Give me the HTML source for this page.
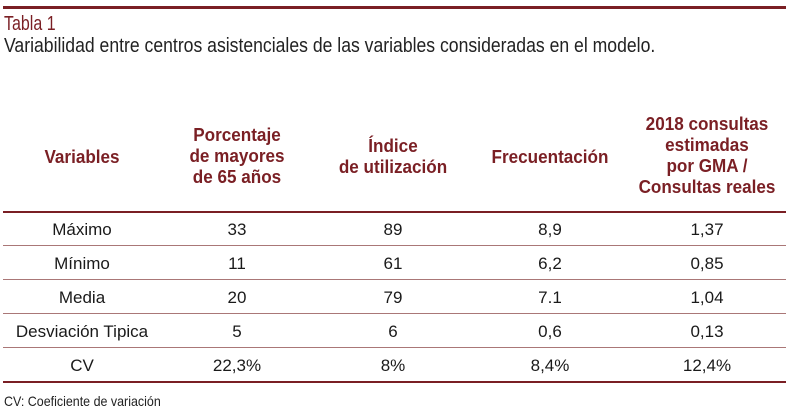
<!DOCTYPE html>
<html><head><meta charset="utf-8"><style>
body{margin:0;width:789px;height:412px;background:#fff;position:relative;font-family:"Liberation Sans Narrow","Liberation Sans",sans-serif;color:#1a1a1a;overflow:hidden}
.a{position:absolute;transform-origin:0 0;white-space:nowrap}
.line{position:absolute;left:3px;width:783px;background:#7a1f24}
.h{position:absolute;color:#7a1f24;font-weight:bold;font-size:18px;line-height:21px;text-align:center;transform:translateX(-50%) scaleX(0.95);white-space:nowrap}
.c{position:absolute;font-size:17px;text-align:center;transform:translateX(-50%);white-space:nowrap}
</style></head><body>
<div class="line" style="top:6px;height:3px"></div>
<div class="a" style="left:4px;top:13px;font-size:20px;color:#7a1f24;transform:scaleX(0.8)">Tabla 1</div>
<div class="a" style="left:4px;top:35px;font-size:20px;color:#222;transform:scaleX(0.88)">Variabilidad entre centros asistenciales de las variables consideradas en el modelo.</div>
<div class="h" style="left:82px;top:147px">Variables</div>
<div class="h" style="left:237px;top:125px">Porcentaje<br>de mayores<br>de 65 años</div>
<div class="h" style="left:393px;top:136px">Índice<br>de utilización</div>
<div class="h" style="left:550px;top:147px">Frecuentación</div>
<div class="h" style="left:707px;top:114px">2018 consultas<br>estimadas<br>por GMA /<br>Consultas reales</div>
<div class="line" style="top:211px;height:2px"></div>
<div class="line" style="top:245px;height:1px;background:#a77"></div>
<div class="line" style="top:279px;height:1px;background:#a77"></div>
<div class="line" style="top:313px;height:1px;background:#a77"></div>
<div class="line" style="top:347px;height:1px;background:#a77"></div>
<div class="line" style="top:381px;height:2px"></div>
<div class="c" style="left:82px;top:220px">Máximo</div><div class="c" style="left:237px;top:220px">33</div><div class="c" style="left:393px;top:220px">89</div><div class="c" style="left:550px;top:220px">8,9</div><div class="c" style="left:707px;top:220px">1,37</div>
<div class="c" style="left:82px;top:254px">Mínimo</div><div class="c" style="left:237px;top:254px">11</div><div class="c" style="left:393px;top:254px">61</div><div class="c" style="left:550px;top:254px">6,2</div><div class="c" style="left:707px;top:254px">0,85</div>
<div class="c" style="left:82px;top:288px">Media</div><div class="c" style="left:237px;top:288px">20</div><div class="c" style="left:393px;top:288px">79</div><div class="c" style="left:550px;top:288px">7.1</div><div class="c" style="left:707px;top:288px">1,04</div>
<div class="c" style="left:82px;top:322px">Desviación Tipica</div><div class="c" style="left:237px;top:322px">5</div><div class="c" style="left:393px;top:322px">6</div><div class="c" style="left:550px;top:322px">0,6</div><div class="c" style="left:707px;top:322px">0,13</div>
<div class="c" style="left:82px;top:356px">CV</div><div class="c" style="left:237px;top:356px">22,3%</div><div class="c" style="left:393px;top:356px">8%</div><div class="c" style="left:550px;top:356px">8,4%</div><div class="c" style="left:707px;top:356px">12,4%</div>
<div class="a" style="left:4px;top:393px;font-size:14px;color:#222;transform:scaleX(0.89)">CV: Coeficiente de variación</div>
</body></html>
